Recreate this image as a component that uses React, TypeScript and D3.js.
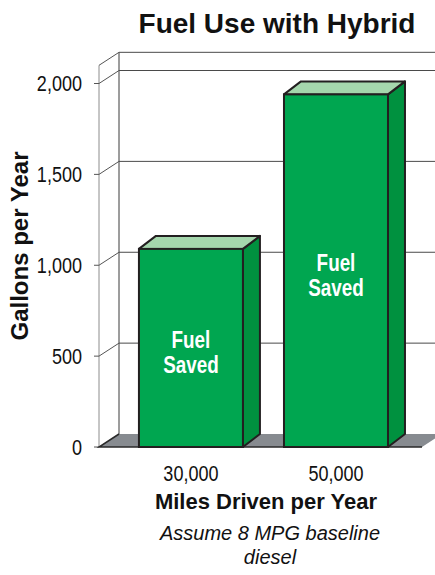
import React, { useRef, useEffect } from "react";
import * as d3 from "d3";

// chart data
const miles = ["30,000", "50,000"];
const gallonsSaved = [1090, 1940];
const yTicks = [0, 500, 1000, 1500, 2000];
const wallTop = 2100;
const barText = ["Fuel", "Saved"];

const App = () => {
  const svgRef = useRef<SVGSVGElement>(null);

  useEffect(() => {
    const width = 435;
    const height = 575;
    const left = 99;
    const right = 422;
    const wall = { dx: 20, dy: -13 }; // depth of the back wall
    const bar = { dx: 17, dy: -13 }; // depth of each bar
    const sans = '"Liberation Sans", Arial, Helvetica, sans-serif';
    const squeeze = 0.82; // no narrow font installed, so squeeze Liberation Sans

    const svg = d3.select(svgRef.current).attr("width", width).attr("height", height);
    svg.selectAll("*").remove();

    const xScale = d3
      .scaleBand()
      .domain(miles)
      .range([left, right])
      .paddingInner(0.283)
      .paddingOuter(0.255)
      .align(0.54);

    const yScale = d3.scaleLinear().domain([0, 2000]).range([447, 83.5]);
    const y0 = yScale(0);

    // back wall: left edge, top edge and grid lines
    svg
      .append("line")
      .attr("x1", left + wall.dx)
      .attr("x2", left + wall.dx)
      .attr("y1", y0 + wall.dy)
      .attr("y2", yScale(wallTop) + wall.dy)
      .attr("stroke", "#3a3a3a")
      .attr("stroke-width", 1);

    svg
      .selectAll(".grid")
      .data([...yTicks.filter((t) => t > 0), wallTop])
      .enter()
      .append("line")
      .attr("class", "grid")
      .attr("x1", left + wall.dx)
      .attr("x2", width + 10)
      .attr("y1", (d) => yScale(d) + wall.dy)
      .attr("y2", (d) => yScale(d) + wall.dy)
      .attr("stroke", "#4a4a4a")
      .attr("stroke-width", 1);

    // left side wall: front axis line and diagonals
    svg
      .append("line")
      .attr("x1", left)
      .attr("x2", left)
      .attr("y1", y0)
      .attr("y2", yScale(wallTop))
      .attr("stroke", "#8c8c8c")
      .attr("stroke-width", 1);

    svg
      .selectAll(".diag")
      .data([...yTicks.filter((t) => t > 0), wallTop])
      .enter()
      .append("line")
      .attr("class", "diag")
      .attr("x1", left)
      .attr("x2", left + wall.dx)
      .attr("y1", (d) => yScale(d))
      .attr("y2", (d) => yScale(d) + wall.dy)
      .attr("stroke", "#555")
      .attr("stroke-width", 1);

    // ticks
    svg
      .selectAll(".tick")
      .data(yTicks)
      .enter()
      .append("line")
      .attr("class", "tick")
      .attr("x1", left - 5)
      .attr("x2", left)
      .attr("y1", (d) => yScale(d))
      .attr("y2", (d) => yScale(d))
      .attr("stroke", "#555")
      .attr("stroke-width", 1);

    svg
      .selectAll(".ytick")
      .data(yTicks)
      .enter()
      .append("text")
      .attr("class", "ytick")
      .attr("transform", (d) => `translate(82,${yScale(d)}) scale(${squeeze},1)`)
      .attr("dy", "0.36em")
      .attr("text-anchor", "end")
      .style("font-family", sans)
      .style("font-size", "22px")
      .attr("fill", "#111")
      .text((d) => d3.format(",")(d));

    // floor
    svg
      .append("path")
      .attr(
        "d",
        `M${left},${y0}L${right},${y0}L${right + wall.dx},${y0 + wall.dy}L${left + wall.dx},${y0 + wall.dy}Z`
      )
      .attr("fill", "#878b90");

    svg
      .append("path")
      .attr("d", `M${left + wall.dx},${y0 + wall.dy}L${left},${y0}L${right},${y0}`)
      .attr("fill", "none")
      .attr("stroke", "#2a2a2a")
      .attr("stroke-width", 1.5);

    // bars
    const bars = svg
      .selectAll(".bar")
      .data(gallonsSaved)
      .enter()
      .append("g")
      .attr("class", "bar");

    const bw = xScale.bandwidth();

    bars
      .append("path")
      .attr("d", (d, i) => {
        const x0 = xScale(miles[i]) as number;
        const top = yScale(d);
        return `M${x0 + bw},${top}L${x0 + bw + bar.dx},${top + bar.dy}L${x0 + bw + bar.dx},${y0 + bar.dy}L${x0 + bw},${y0}Z`;
      })
      .attr("fill", "#00913f")
      .attr("stroke", "#231f20")
      .attr("stroke-width", 2)
      .attr("stroke-linejoin", "round");

    bars
      .append("path")
      .attr("d", (d, i) => {
        const x0 = xScale(miles[i]) as number;
        const top = yScale(d);
        return `M${x0},${top}L${x0 + bar.dx},${top + bar.dy}L${x0 + bw + bar.dx},${top + bar.dy}L${x0 + bw},${top}Z`;
      })
      .attr("fill", "#a5d7ad")
      .attr("stroke", "#231f20")
      .attr("stroke-width", 2)
      .attr("stroke-linejoin", "round");

    bars
      .append("rect")
      .attr("x", (_, i) => xScale(miles[i]) as number)
      .attr("y", (d) => yScale(d))
      .attr("width", bw)
      .attr("height", (d) => y0 - yScale(d))
      .attr("fill", "#00a650")
      .attr("stroke", "#231f20")
      .attr("stroke-width", 2);

    // labels inside bars
    bars.each(function (d, i) {
      const cx = (xScale(miles[i]) as number) + bw / 2;
      const mid = (yScale(d) + y0) / 2 + 4;
      d3.select(this)
        .selectAll("text")
        .data(barText)
        .enter()
        .append("text")
        .attr("transform", (_, j) => `translate(${cx},${mid - 4 + j * 25}) scale(${squeeze},1)`)
        .attr("text-anchor", "middle")
        .style("font-family", sans)
        .style("font-size", "23px")
        .style("font-weight", "bold")
        .attr("fill", "#fff")
        .text((t) => t);
    });

    // x tick labels
    svg
      .selectAll(".xtick")
      .data(miles)
      .enter()
      .append("text")
      .attr("class", "xtick")
      .attr("transform", (d) => `translate(${(xScale(d) as number) + bw / 2},481) scale(${squeeze},1)`)
      .attr("text-anchor", "middle")
      .style("font-family", sans)
      .style("font-size", "22px")
      .attr("fill", "#111")
      .text((d) => d);

    // titles
    svg
      .append("text")
      .attr("x", 277)
      .attr("y", 33)
      .attr("text-anchor", "middle")
      .style("font-family", sans)
      .style("font-size", "28px")
      .style("font-weight", "bold")
      .attr("fill", "#111")
      .text("Fuel Use with Hybrid");

    svg
      .append("text")
      .attr("x", 266)
      .attr("y", 509)
      .attr("text-anchor", "middle")
      .style("font-family", sans)
      .style("font-size", "22px")
      .style("font-weight", "bold")
      .attr("fill", "#111")
      .text("Miles Driven per Year");

    svg
      .append("text")
      .attr("transform", "translate(28,246) rotate(-90)")
      .attr("text-anchor", "middle")
      .style("font-family", sans)
      .style("font-size", "24px")
      .style("font-weight", "bold")
      .attr("fill", "#111")
      .text("Gallons per Year");

    const note = svg
      .append("text")
      .attr("text-anchor", "middle")
      .style("font-family", sans)
      .style("font-size", "20px")
      .style("font-style", "italic")
      .attr("fill", "#111");
    note.append("tspan").attr("x", 270).attr("y", 540).text("Assume 8 MPG baseline");
    note.append("tspan").attr("x", 270).attr("y", 564).text("diesel");
  }, []);

  return <svg ref={svgRef} style={{ position: "absolute", left: 0, top: 0 }}></svg>;
};

export default App;
